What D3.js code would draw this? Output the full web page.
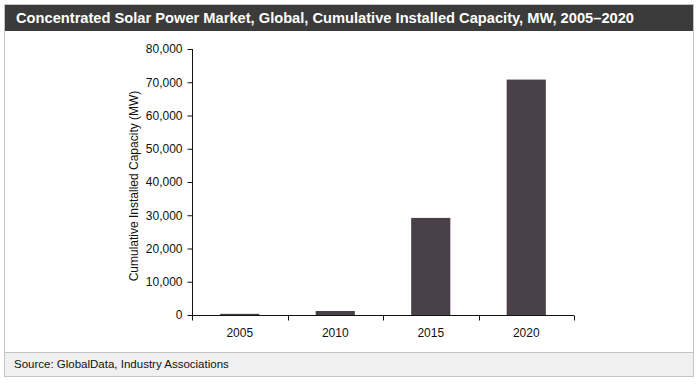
<!DOCTYPE html>
<html>
<head>
<meta charset="utf-8">
<script src="https://cdn.jsdelivr.net/npm/d3@7"></script>
<style>
  body { margin: 0; background: #fff; }
  text { font-family: "Liberation Sans", Arial, sans-serif; }
</style>
</head>
<body>
<svg id="chart"></svg>
<script>
//chart data
var years = ['2005', '2010', '2015', '2020'];
var capacity = [350, 1200, 29200, 70800];
var yTicks = [0, 10000, 20000, 30000, 40000, 50000, 60000, 70000, 80000];

function csPowerChart() {
    var svg = d3.select('#chart')
        .attr('width', 700)
        .attr('height', 384);

    //outer frame
    svg.append('rect')
        .attr('x', 4.5).attr('y', 4.5)
        .attr('width', 689).attr('height', 372)
        .attr('fill', '#fff')
        .attr('stroke', '#c4c4c4');

    //title bar
    svg.append('rect')
        .attr('x', 5).attr('y', 5)
        .attr('width', 688).attr('height', 26)
        .attr('fill', '#3b3b3b');
    svg.append('text')
        .attr('x', 16).attr('y', 23)
        .attr('fill', '#fff')
        .attr('font-size', 14)
        .attr('font-weight', 'bold')
        .attr('textLength', 618)
        .attr('lengthAdjust', 'spacingAndGlyphs')
        .text('Concentrated Solar Power Market, Global, Cumulative Installed Capacity, MW, 2005\u20132020');

    //source bar
    svg.append('rect')
        .attr('x', 5).attr('y', 352.5)
        .attr('width', 688).attr('height', 23.5)
        .attr('fill', '#f0f0f0');
    svg.append('line')
        .attr('x1', 5).attr('x2', 693)
        .attr('y1', 352.5).attr('y2', 352.5)
        .attr('stroke', '#c4c4c4');
    svg.append('text')
        .attr('x', 14).attr('y', 367.5)
        .attr('fill', '#111')
        .attr('font-size', 11.5)
        .text('Source: GlobalData, Industry Associations');

    //plot area
    var left = 192, right = 574, top = 49, bottom = 315;

    var x = d3.scaleBand().domain(years).range([left, right]).padding(0);
    var y = d3.scaleLinear().domain([0, 80000]).range([bottom, top]);

    //bars
    var barW = x.bandwidth() * 0.41;
    svg.append('g')
        .selectAll('rect')
        .data(capacity)
        .enter().append('rect')
            .attr('x', (d, i) => x(years[i]) + (x.bandwidth() - barW) / 2)
            .attr('y', d => y(d))
            .attr('width', barW)
            .attr('height', d => bottom - y(d))
            .attr('fill', '#4a4049');

    //y axis
    var yAxis = d3.axisLeft(y)
        .tickValues(yTicks)
        .tickSize(5)
        .tickPadding(5)
        .tickFormat(d3.format(','));
    var gy = svg.append('g')
        .attr('transform', 'translate(' + (left + 0.5) + ',0)')
        .call(yAxis);
    gy.select('.domain').attr('d', 'M0,' + top + 'V' + bottom).attr('stroke', '#111');
    gy.selectAll('.tick line').attr('stroke', '#111');
    gy.selectAll('.tick text')
        .attr('font-size', 12)
        .attr('fill', '#111')
        .attr('font-family', '"Liberation Sans", Arial, sans-serif');

    //x axis with tick marks at band edges
    var gx = svg.append('g')
        .attr('transform', 'translate(0,' + (bottom + 0.5) + ')');
    gx.append('line')
        .attr('x1', left).attr('x2', right)
        .attr('stroke', '#111');
    gx.selectAll('.edge')
        .data(years.concat(['end']))
        .enter().append('line')
            .attr('class', 'edge')
            .attr('x1', (d, i) => Math.round(left + i * x.step()) + 0.5)
            .attr('x2', (d, i) => Math.round(left + i * x.step()) + 0.5)
            .attr('y1', 0).attr('y2', 5)
            .attr('stroke', '#111');
    gx.selectAll('.lbl')
        .data(years)
        .enter().append('text')
            .attr('class', 'lbl')
            .attr('x', d => x(d) + x.bandwidth() / 2)
            .attr('y', 21.5)
            .attr('text-anchor', 'middle')
            .attr('font-size', 12)
            .attr('fill', '#111')
            .text(d => d);

    //y axis title
    svg.append('text')
        .attr('transform', 'translate(138,' + ((top + bottom) / 2 + 4) + ') rotate(-90)')
        .attr('text-anchor', 'middle')
        .attr('font-size', 12)
        .attr('fill', '#111')
        .text('Cumulative Installed Capacity (MW)');
}

csPowerChart();
</script>
</body>
</html>
